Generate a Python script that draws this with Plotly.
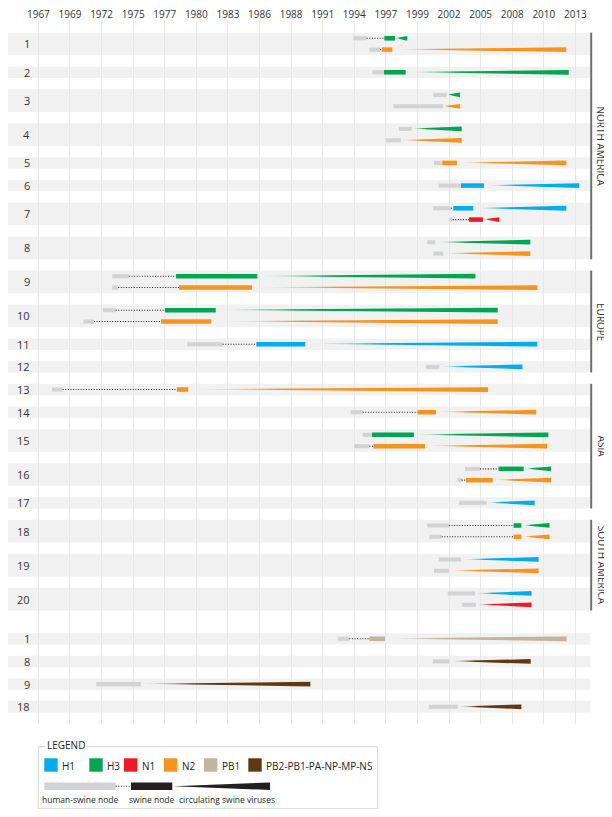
import numpy as np
import plotly.graph_objects as go

# axis labels (top)
TICK_LABELS = ["1967", "1969", "1972", "1975", "1977", "1980", "1983", "1986", "1988",
               "1991", "1994", "1997", "1999", "2002", "2005", "2008", "2010", "2013"]

# row labels, top to bottom (last four rows are the internal-gene section)
ROW_LABELS = ["1", "2", "3", "4", "5", "6", "7", "8", "9", "10", "11", "12", "13", "14",
              "15", "16", "17", "18", "19", "20", "1", "8", "9", "18"]
PB_FIRST_ROW = 20

REGION_NAMES = ["NORTH AMERICA", "EUROPE", "ASIA", "SOUTH AMERICA"]
REGION_FIRST_ROW = [0, 8, 12, 17]
REGION_LAST_ROW = [7, 11, 16, 19]

SEGMENT_COLORS = {"H1": "#00aeef", "H3": "#00a651", "N1": "#ed1c24", "N2": "#f7941d",
                  "PB1": "#c2b59b", "PB2": "#603913"}
LEGEND_LABELS = ["H1", "H3", "N1", "N2", "PB1", "PB2-PB1-PA-NP-MP-NS"]
LEGEND_KEYS = ["H1", "H3", "N1", "N2", "PB1", "PB2"]

# one entry per drawn lineage (years)
LINE_ROW = [0, 0, 1, 2, 2, 3, 3, 4, 5, 6, 6, 7, 7, 8, 8, 9, 9, 10, 11, 12, 13,
            14, 14, 15, 15, 16, 17, 17, 18, 18, 19, 19, 20, 21, 22, 23]
LINE_SEG = ["H3", "N2", "H3", "H3", "N2", "H3", "N2", "N2", "H1", "H1", "N1", "H3", "N2",
            "H3", "N2", "H3", "N2", "H1", "H1", "N2", "N2", "H3", "N2", "H3", "N2", "H1",
            "H3", "N2", "H1", "N2", "H1", "N1", "PB1", "PB2", "PB2", "PB2"]
# human-swine node
HS_START = [1993.97, 1995.35, 1995.60, 2000.83, 1997.40, 1997.89, 1996.78, 2000.89, 2001.29,
            2000.83, 2002.17, 2000.31, 2000.83, 1973.33, 1973.33, 1972.51, 1970.85, 1979.75,
            2000.20, 1968.17, 1993.75, 1994.78, 1994.06, 2003.54, 2002.88, 2003.03, 2000.31,
            2000.48, 2001.29, 2000.89, 2002.06, 2003.31, 1992.64, 2000.78, 1971.96, 2000.46]
HS_END = [1995.12, 1996.26, 1996.60, 2001.98, 2001.68, 1998.98, 1998.06, 2001.60, 2003.20,
          2002.34, 2002.49, 2001.00, 2001.68, 1974.76, 1973.84, 1973.62, 1971.76, 1982.79,
          2001.34, 1969.07, 1994.78, 1995.58, 1995.35, 2004.83, 2003.26, 2005.40, 2002.17,
          2001.55, 2003.20, 2002.17, 2004.40, 2004.48, 1993.63, 2002.20, 1975.78, 2002.92]
# swine node (None = absent)
SN_START = [1996.63, 1996.41, 1996.60, None, None, None, None, 2001.60, 2003.20,
            2002.54, 2003.88, None, None, 1978.79, 1979.04, 1977.84, 1977.50, 1985.67,
            None, 1978.86, 1999.49, 1995.58, 1995.69, 2006.42, 2003.63, None, 2007.70,
            2007.70, None, None, None, None, 1995.35, None, None, None]
SN_END = [1997.55, 1997.32, 1998.46, None, None, None, None, 2002.86, 2005.17,
          2004.25, 2005.08, None, None, 1985.75, 1985.30, 1982.19, 1981.81, 1989.86,
          None, 1979.84, 2001.06, 1999.17, 2000.12, 2008.57, 2005.92, None, 2008.37,
          2008.37, None, None, None, None, 1996.69, None, None, None]
# circulating swine viruses
CV_START = [1997.63, 1997.37, 1998.55, 2002.03, 2001.68, 1998.98, 1998.06, 2003.11, 2005.45,
            2004.46, 2005.17, 2001.00, 2001.83, 1985.98, 1985.55, 1982.27, 1981.98, 1990.20,
            2001.40, 1980.07, 2001.34, 1999.34, 2000.31, 2008.71, 2006.11, 2005.45, 2008.54,
            2008.54, 2003.35, 2002.17, 2004.46, 2004.54, 1996.84, 2002.26, 1975.95, 2003.03]
CV_END = [1998.60, 2012.22, 2012.43, 2003.11, 2003.11, 2003.26, 2003.26, 2012.22, 2013.33,
          2012.22, 2006.48, 2009.14, 2009.14, 2004.43, 2009.74, 2006.34, 2006.34, 2009.74,
          2008.47, 2005.52, 2009.64, 2010.68, 2010.58, 2010.92, 2010.92, 2009.51, 2010.78,
          2010.78, 2009.85, 2009.85, 2009.24, 2009.24, 2012.25, 2009.17, 1990.30, 2008.37]

# page geometry (pixels of the 612x817 window; the page body adds an 8px margin)
PAGE_W, PAGE_H, BODY_MARGIN = 612, 817, 8
W, H = PAGE_W - BODY_MARGIN, PAGE_H - 2 * BODY_MARGIN
PLOT_L, PLOT_R, PLOT_T, PLOT_B = 8, 591, 21, 724
FIRST_LINE_PX, LINE_STEP_PX = 38.3, 11.33
YEAR0_PX, PX_PER_YEAR = 38.4, 11.674

GRAY = "#d1d3d4"
BAND = "#f1f1f2"
DARK = "#231f20"
FONT = "Open Sans"
DOTS = "1px,1.6px"


def px_x(px):
    return (px - PLOT_L) / (PLOT_R - PLOT_L)


def px_y(py):
    return (PLOT_B - py) / (PLOT_B - PLOT_T)


def rgba(hexcol, a):
    h = hexcol.lstrip("#")
    return "rgba(%d,%d,%d,%.2f)" % (int(h[0:2], 16), int(h[2:4], 16), int(h[4:6], 16), a)


# vertical slot of every line
line_y = []
pos = 0
prev = None
for r in LINE_ROW:
    if prev is not None:
        if r == prev:
            pos += 1
        elif r == PB_FIRST_ROW:
            pos += 3
        else:
            pos += 2
    line_y.append(pos)
    prev = r

row_top = {}
row_bot = {}
for r, y in zip(LINE_ROW, line_y):
    row_top[r] = min(row_top.get(r, y), y)
    row_bot[r] = max(row_bot.get(r, y), y)

fig = go.Figure()
shapes = []
annotations = []

# row bands and labels
for r, lab in enumerate(ROW_LABELS):
    shapes.append(dict(type="rect", xref="paper", yref="y", x0=0, x1=px_x(590.3),
                       y0=row_top[r] - 0.5, y1=row_bot[r] + 0.5,
                       fillcolor=BAND, line=dict(width=0), layer="below"))
    annotations.append(dict(xref="paper", yref="y", x=px_x(31.5), y=(row_top[r] + row_bot[r]) / 2,
                            text=lab, showarrow=False, xanchor="right", yanchor="middle",
                            font=dict(family=FONT, size=11, color="#333")))

# region brackets
for name, a, b in zip(REGION_NAMES, REGION_FIRST_ROW, REGION_LAST_ROW):
    shapes.append(dict(type="line", xref="paper", yref="y", x0=px_x(591.2), x1=px_x(591.2),
                       y0=row_top[a] - 0.5, y1=row_bot[b] + 0.5,
                       line=dict(color="#6d6e71", width=2)))
    annotations.append(dict(xref="paper", yref="y", x=px_x(601.5), y=(row_top[a] + row_bot[b]) / 2,
                            text=name, showarrow=False, textangle=90,
                            xanchor="center", yanchor="middle",
                            font=dict(family=FONT, size=10, color="#333")))

BAR_H = 0.2
HS_H = 0.18
for i in range(len(LINE_ROW)):
    y = line_y[i]
    col = SEGMENT_COLORS[LINE_SEG[i]]
    shapes.append(dict(type="rect", xref="x", yref="y", x0=HS_START[i], x1=HS_END[i],
                       y0=y - HS_H, y1=y + HS_H, fillcolor=GRAY, line=dict(width=0)))
    if SN_START[i] is not None:
        if SN_START[i] - HS_END[i] > 0.05:
            shapes.append(dict(type="line", xref="x", yref="y", x0=HS_END[i], x1=SN_START[i],
                               y0=y, y1=y, line=dict(color=DARK, width=1.1, dash=DOTS)))
        shapes.append(dict(type="rect", xref="x", yref="y", x0=SN_START[i], x1=SN_END[i],
                           y0=y - BAR_H, y1=y + BAR_H, fillcolor=col, line=dict(width=0)))
    xs = [CV_START[i], CV_END[i], CV_END[i], CV_START[i], CV_START[i]]
    ys = [y - 0.03, y - 0.21, y + 0.21, y + 0.03, y - 0.03]
    fig.add_trace(go.Scatter(
        x=xs, y=ys, mode="lines", fill="toself",
        line=dict(width=0, color="rgba(0,0,0,0)"),
        fillgradient=dict(type="horizontal",
                          colorscale=[[0, rgba(col, 0.12)], [0.3, rgba(col, 1)], [1, rgba(col, 1)]]),
        hoverinfo="skip", showlegend=False))

# legend box
LEG_L, LEG_R, LEG_T, LEG_B = 38.3, 377.7, 746.7, 808.8
shapes.append(dict(type="rect", xref="paper", yref="paper",
                   x0=px_x(LEG_L), x1=px_x(LEG_R), y0=px_y(LEG_B), y1=px_y(LEG_T),
                   line=dict(color="#d1d3d4", width=1), fillcolor="white"))
annotations.append(dict(xref="paper", yref="paper", x=px_x(45), y=px_y(745), text="LEGEND",
                        showarrow=False, xanchor="left", yanchor="middle", bgcolor="white",
                        borderpad=1, font=dict(family=FONT, size=10, color=DARK)))
sw_left = [44.3, 89.3, 124.0, 164.0, 204.0, 248.3]
for lx, key, lab in zip(sw_left, LEGEND_KEYS, LEGEND_LABELS):
    shapes.append(dict(type="rect", xref="paper", yref="paper",
                       x0=px_x(lx), x1=px_x(lx + 13.4), y0=px_y(771.7), y1=px_y(758.3),
                       fillcolor=SEGMENT_COLORS[key], line=dict(width=0)))
    annotations.append(dict(xref="paper", yref="paper", x=px_x(lx + 15.5), y=px_y(765.5), text=lab,
                            showarrow=False, xanchor="left", yanchor="middle",
                            font=dict(family=FONT, size=10, color=DARK)))

ly = 786.2
shapes.append(dict(type="rect", xref="paper", yref="paper", x0=px_x(44.3), x1=px_x(115.7),
                   y0=px_y(790), y1=px_y(782.4), fillcolor=GRAY, line=dict(width=0)))
shapes.append(dict(type="line", xref="paper", yref="paper", x0=px_x(115.7), x1=px_x(131),
                   y0=px_y(ly), y1=px_y(ly), line=dict(color=DARK, width=1.1, dash=DOTS)))
shapes.append(dict(type="rect", xref="paper", yref="paper", x0=px_x(131), x1=px_x(172.3),
                   y0=px_y(790), y1=px_y(782.4), fillcolor=DARK, line=dict(width=0)))
shapes.append(dict(type="path", xref="paper", yref="paper",
                   path="M %f,%f L %f,%f L %f,%f Z" % (px_x(173.3), px_y(ly), px_x(270), px_y(782.4),
                                                       px_x(270), px_y(790)),
                   fillcolor=DARK, line=dict(width=0)))
for cx, txt in zip([80, 151.7, 226.7], ["human-swine node", "swine node", "circulating swine viruses"]):
    annotations.append(dict(xref="paper", yref="paper", x=px_x(cx), y=px_y(799.5), text=txt,
                            showarrow=False, xanchor="center", yanchor="middle",
                            font=dict(family=FONT, size=8.5, color=DARK)))

x_lo = 1967 + (PLOT_L - YEAR0_PX) / PX_PER_YEAR
x_hi = 1967 + (PLOT_R - YEAR0_PX) / PX_PER_YEAR
y_top = (PLOT_T - FIRST_LINE_PX) / LINE_STEP_PX
y_bot = (PLOT_B - FIRST_LINE_PX) / LINE_STEP_PX
tick_vals = np.linspace(int(TICK_LABELS[0]), int(TICK_LABELS[-1]), len(TICK_LABELS))

fig.update_layout(
    width=W, height=H,
    margin=dict(l=PLOT_L - BODY_MARGIN, r=W - (PLOT_R - BODY_MARGIN),
                t=PLOT_T - BODY_MARGIN, b=H - (PLOT_B - BODY_MARGIN), pad=0),
    paper_bgcolor="white", plot_bgcolor="rgba(0,0,0,0)",
    showlegend=False,
    shapes=shapes, annotations=annotations,
    xaxis=dict(range=[x_lo, x_hi], side="top", tickvals=tick_vals, ticktext=TICK_LABELS,
               showgrid=True, gridcolor="#e6e7e8", gridwidth=1, zeroline=False, showline=False,
               ticks="", automargin=False, fixedrange=True,
               tickfont=dict(family=FONT, size=10, color="#333")),
    yaxis=dict(range=[y_bot, y_top], visible=False, automargin=False, fixedrange=True),
)

fig.write_html("out.html", config={"displayModeBar": False})
